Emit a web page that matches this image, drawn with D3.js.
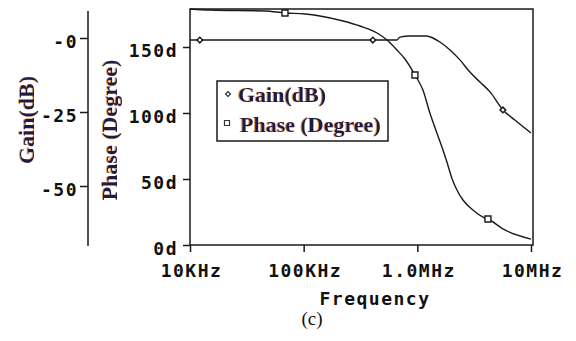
<!DOCTYPE html>
<html>
<head>
<meta charset="utf-8">
<script src="https://cdn.jsdelivr.net/npm/d3@7"></script>
<style>
  html, body { margin: 0; padding: 0; background: #fff; }
  svg { display: block; }
  .mono { font-family: "DejaVu Sans Mono", monospace; font-weight: bold; font-size: 18px; letter-spacing: 1.5px; fill: #111; }
  .serifb { font-family: "Liberation Serif", "Times New Roman", serif; font-weight: bold; font-size: 22px; fill: #1b1b48; }
</style>
</head>
<body>
<svg id="chart" width="576" height="341"></svg>
<script>
// ---- data ----
const seriesNames = ["Gain(dB)", "Phase (Degree)"];
const xTicks = [1e4, 1e5, 1e6, 1e7];
const xTickLabels = ["10KHz", "100KHz", "1.0MHz", "10MHz"];
const phaseTicks = [0, 50, 100, 150];
const phaseTickLabels = ["0d", "50d", "100d", "150d"];
const gainTicks = [0, -25, -50];
const gainTickLabels = ["-0", "-25", "-50"];

const gainFreq = [10000, 660000, 703000, 861000, 1210000, 1370000, 1580000, 1940000, 2370000, 2900000, 3560000, 4360000, 5660000, 7210000, 10000000];
const gainDb   = [-0.7, -0.7, 0.3, 0.7, 0.7, 0.0, -1.35, -4.05, -7.4, -11.5, -14.9, -18.2, -24.3, -27.7, -32.1];

const phaseFreq = [10000, 15000, 45700, 68500, 102600, 139000, 222000, 313000, 442000, 541000, 662000, 778000, 953000, 1120000, 1290000, 1486000, 1680000, 1820000, 2010000, 2230000, 2520000, 3080000, 3780000, 4180000, 5890000, 10000000];
const phaseDeg  = [178.8, 178, 177.3, 175.8, 175, 173.5, 169.7, 165.9, 160.6, 155.3, 147.7, 140.9, 128.8, 117.4, 100, 84.8, 72, 62.9, 50.8, 41.7, 34.1, 26.5, 21.2, 19.7, 11.4, 4.5];

const gainMarkerFreq = [12200, 406000, 5660000];
const gainMarkerDb   = [-0.7, -0.7, -24.3];
const phaseMarkerFreq = [68500, 953000, 4180000];
const phaseMarkerDeg  = [175.8, 128.8, 19.7];

// ---- layout ----
const plotL = 190, plotR = 533, plotT = 9, plotB = 245;
const gainAxisX = 88;

const svg = d3.select("#chart");

const defs = svg.append("defs");
const f = defs.append("filter").attr("id", "fringe").attr("x", "-10%").attr("y", "-10%").attr("width", "120%").attr("height", "120%");
f.append("feFlood").attr("flood-color", "#e0892a").attr("flood-opacity", 0.85).attr("result", "c");
f.append("feComposite").attr("in", "c").attr("in2", "SourceAlpha").attr("operator", "in").attr("result", "sh");
f.append("feOffset").attr("in", "sh").attr("dx", -1).attr("dy", 0).attr("result", "sho");
const fm = f.append("feMerge");
fm.append("feMergeNode").attr("in", "sho");
fm.append("feMergeNode").attr("in", "SourceGraphic");

const x = d3.scaleLog().domain([1e4, 1e7]).range([190, 531]);
const yPhase = d3.scaleLinear().domain([0, 150]).range([245, 47]);
const yGain = d3.scaleLinear().domain([-50, 0]).range([186, 38]);

// plot box
svg.append("rect")
  .attr("x", plotL).attr("y", plotT)
  .attr("width", plotR - plotL).attr("height", plotB - plotT)
  .attr("fill", "none").attr("stroke", "#1a1a1a").attr("stroke-width", 1.5);

// phase axis (left of plot)
const pAxis = svg.append("g").attr("transform", `translate(${plotL},0)`)
  .call(d3.axisLeft(yPhase).tickValues(phaseTicks)
    .tickFormat((d, i) => phaseTickLabels[i]).tickSize(7).tickSizeOuter(0));
pAxis.select(".domain").remove();
pAxis.selectAll(".tick line").attr("stroke", "#1a1a1a").attr("stroke-width", 1.5);
pAxis.selectAll(".tick text").attr("class", "mono").attr("x", -12).attr("dy", "9px")
  .style("font-family", null).attr("font-family", null).attr("font-size", null);
pAxis.attr("font-family", null).attr("font-size", null);

// gain axis (far left)
svg.append("line").attr("x1", gainAxisX).attr("x2", gainAxisX).attr("y1", 11).attr("y2", 246)
  .attr("stroke", "#1a1a1a").attr("stroke-width", 1.5);
const gAxis = svg.append("g").attr("transform", `translate(${gainAxisX},0)`)
  .call(d3.axisLeft(yGain).tickValues(gainTicks)
    .tickFormat((d, i) => gainTickLabels[i]).tickSize(8).tickSizeOuter(0));
gAxis.select(".domain").remove();
gAxis.selectAll(".tick line").attr("stroke", "#1a1a1a").attr("stroke-width", 1.5);
gAxis.selectAll(".tick text").attr("class", "mono").attr("x", -10).attr("dy", "9px");
gAxis.attr("font-family", null).attr("font-size", null);

// x axis
const xAxis = svg.append("g").attr("transform", `translate(0,${plotB})`)
  .call(d3.axisBottom(x).tickValues(xTicks)
    .tickFormat((d, i) => xTickLabels[i]).tickSize(7).tickSizeOuter(0));
xAxis.select(".domain").remove();
xAxis.selectAll(".tick line").attr("stroke", "#1a1a1a").attr("stroke-width", 1.5);
xAxis.selectAll(".tick text").attr("class", "mono").attr("y", 32).attr("dy", 0).attr("dx", "1px");
xAxis.attr("font-family", null).attr("font-size", null);

// axis titles
svg.append("text").attr("class", "mono").attr("x", 375).attr("y", 305)
  .attr("text-anchor", "middle").text("Frequency");

svg.append("text").attr("x", 312).attr("y", 325).attr("text-anchor", "middle")
  .attr("font-family", "Liberation Serif, Times New Roman, serif").attr("font-size", 19)
  .attr("fill", "#111").text("(c)");

const titles = svg.append("g").attr("filter", "url(#fringe)");
titles.append("text").attr("class", "serifb")
  .attr("transform", "translate(34,120) rotate(-90)")
  .attr("text-anchor", "middle").text(seriesNames[0]);
titles.append("text").attr("class", "serifb")
  .attr("transform", "translate(117,130) rotate(-90)")
  .attr("text-anchor", "middle").text(seriesNames[1]);

// curves
const gainData = gainFreq.map((fq, i) => [fq, gainDb[i]]);
const phaseData = phaseFreq.map((fq, i) => [fq, phaseDeg[i]]);

svg.append("path").datum(gainData)
  .attr("fill", "none").attr("stroke", "#1a1a1a").attr("stroke-width", 1.4)
  .attr("d", d3.line().x(d => x(d[0])).y(d => yGain(d[1])).curve(d3.curveMonotoneX));
svg.append("path").datum(phaseData)
  .attr("fill", "none").attr("stroke", "#1a1a1a").attr("stroke-width", 1.4)
  .attr("d", d3.line().x(d => x(d[0])).y(d => yPhase(d[1])).curve(d3.curveMonotoneX));

// markers
const diamond = d3.symbol().type(d3.symbolSquare).size(16);
const square = d3.symbol().type(d3.symbolSquare).size(36);
svg.selectAll(".gm").data(gainMarkerFreq).join("path").attr("class", "gm")
  .attr("transform", (d, i) => `translate(${x(d)},${yGain(gainMarkerDb[i])}) rotate(45)`)
  .attr("d", diamond).attr("fill", "#fff").attr("stroke", "#1a1a1a").attr("stroke-width", 1.5);
svg.selectAll(".pm").data(phaseMarkerFreq).join("path").attr("class", "pm")
  .attr("transform", (d, i) => `translate(${x(d)},${yPhase(phaseMarkerDeg[i])})`)
  .attr("d", square).attr("fill", "#fff").attr("stroke", "#1a1a1a").attr("stroke-width", 1.4);

// legend
const leg = svg.append("g");
leg.append("rect").attr("x", 217).attr("y", 81).attr("width", 171).attr("height", 60)
  .attr("fill", "#fff").attr("stroke", "#1a1a1a").attr("stroke-width", 1.5);
leg.append("path").attr("transform", "translate(228,94) rotate(45)")
  .attr("d", d3.symbol().type(d3.symbolSquare).size(12))
  .attr("fill", "#fff").attr("stroke", "#333").attr("stroke-width", 1.2);
leg.append("path").attr("transform", "translate(227,123)")
  .attr("d", d3.symbol().type(d3.symbolSquare).size(25))
  .attr("fill", "#fff").attr("stroke", "#333").attr("stroke-width", 1.2);
const legText = leg.append("g").attr("filter", "url(#fringe)");
legText.append("text").attr("class", "serifb").attr("x", 238).attr("y", 102).text(seriesNames[0]);
legText.append("text").attr("class", "serifb").attr("x", 240).attr("y", 132).text(seriesNames[1]);
</script>
</body>
</html>
